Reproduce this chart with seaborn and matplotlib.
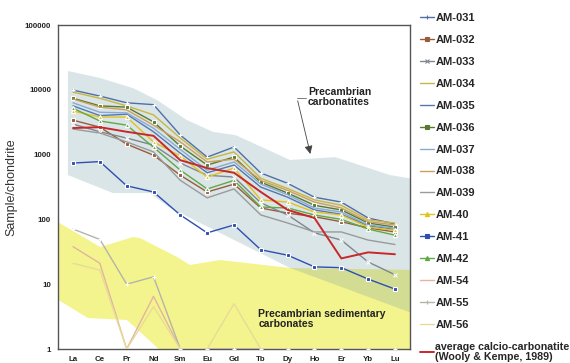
import numpy as np
import pandas as pd
import matplotlib
matplotlib.use("Agg")
import matplotlib.pyplot as plt
import seaborn as sns
from matplotlib.lines import Line2D
from matplotlib.ticker import LogLocator, NullFormatter, FixedLocator, FixedFormatter

# ---------------- data ----------------
ree = ["La", "Ce", "Pr", "Nd", "Sm", "Eu", "Gd", "Tb", "Dy", "Ho", "Er", "Yb", "Lu"]

am031 = [9900, 8000, 6300, 5900, 2000, 915, 1310, 520, 360, 220, 185, 105, 85]
am032 = [3400, 2650, 1450, 980, 480, 265, 350, 150, 125, 110, 92, 74, 64]
am033 = [2950, 2250, 1800, 1400, 740, 480, 450, 180, 117, 62, 48, 22, 14]
am034 = [9200, 7400, 5650, 4100, 1800, 850, 1100, 430, 300, 200, 165, 98, 88]
am035 = [5650, 4000, 4200, 2250, 1050, 525, 690, 315, 220, 140, 120, 80, 70]
am036 = [7400, 5650, 5400, 3200, 1350, 690, 915, 375, 255, 165, 140, 88, 76]
am037 = [6300, 4500, 4400, 2550, 1200, 575, 770, 350, 240, 150, 130, 82, 73]
am038 = [7200, 5400, 4900, 2850, 1570, 770, 850, 400, 280, 185, 150, 92, 82]
am039 = [2480, 2150, 1570, 1100, 400, 215, 295, 117, 88, 64, 64, 48, 41]
am40 = [4700, 3800, 3800, 1570, 950, 450, 620, 200, 185, 130, 117, 76, 68]
am41 = [740, 780, 330, 265, 117, 62, 82, 34, 28, 18.5, 18, 12, 8.4]
am42 = [5200, 3300, 2850, 1300, 575, 295, 400, 155, 150, 117, 100, 71, 57]
am54 = [38, 21, 1, 6.5, 1, 1, 1, 1, 1, 1, 1, 1, 1]
am55 = [71, 49, 10, 13, 1, 1, 1, 1, 1, 1, 1, 1, 1]
am56 = [21, 16.5, 1, 4.5, 1, 1, 5, 1, 1, 1, 1, 1, 1]
avg_calcio = [2570, 2650, 2250, 1950, 820, 620, 525, 265, 140, 105, 25, 31, 29]

sample_names = ["AM-031", "AM-032", "AM-033", "AM-034", "AM-035", "AM-036", "AM-037",
                "AM-038", "AM-039", "AM-40", "AM-41", "AM-42", "AM-54", "AM-55", "AM-56"]
sample_values = [am031, am032, am033, am034, am035, am036, am037,
                 am038, am039, am40, am41, am42, am54, am55, am56]
avg_label = "average calcio-carbonatite\n(Wooly & Kempe, 1989)"

# field envelopes (REE position, normalised value)
carb_x = [-0.19, 1.01, 2.24, 3.13, 4.25, 5.22, 6.07, 8.09, 9.77, 11.81, 12.7,
          12.7, 8.09, 3.62, 2.87, 1.49, -0.19]
carb_y = [19500, 15200, 10600, 6950, 3400, 2240, 1990, 825, 915, 484, 420,
          3.5, 17.8, 150, 255, 255, 484]
sed_x = [-0.9, 1.01, 2.24, 2.50, 3.88, 4.36, 5.48, 8.09, 12.7,
         12.7, 3.99, 2.01, 0.56, -0.9]
sed_y = [110, 37.5, 53.5, 51.5, 26.3, 19.8, 23.6, 17.8, 16.6,
         0.5, 0.5, 2.8, 3.0, 7.0]

# ---------------- style ----------------
colors = {"AM-031": "#4f6fa8", "AM-032": "#9a5a3c", "AM-033": "#7f8791",
          "AM-034": "#c9b640", "AM-035": "#5676b0", "AM-036": "#587a2c",
          "AM-037": "#86acd6", "AM-038": "#cf9e5c", "AM-039": "#9a9a9a",
          "AM-40": "#e2c21e", "AM-41": "#2f4fb0", "AM-42": "#62a844",
          "AM-54": "#e4b4a0", "AM-55": "#b4b4aa", "AM-56": "#e6dc98"}
markers = {"AM-031": "+", "AM-032": "s", "AM-033": "x", "AM-034": None,
           "AM-035": None, "AM-036": "s", "AM-037": None, "AM-038": None,
           "AM-039": None, "AM-40": "^", "AM-41": "s", "AM-42": "^",
           "AM-54": None, "AM-55": "+", "AM-56": None}
avg_color = "#c8282a"

sns.set_theme(style="white")
plt.rcParams["font.family"] = ["Liberation Sans", "DejaVu Sans"]

fig = plt.figure(figsize=(5.7, 3.63), dpi=100)
ax = fig.add_axes([58 / 570, 1 - 349 / 363, (410 - 58) / 570, (349 - 25) / 363])

ax.fill(sed_x, sed_y, color="#f4f48e", lw=0, zorder=0)
ax.fill(carb_x, carb_y, color="#6f98a3", alpha=0.25, lw=0, zorder=1)

xpos = np.arange(len(ree))
for name, vals in zip(sample_names, sample_values):
    df = pd.DataFrame({"pos": xpos, "value": vals})
    mk = markers[name]
    sns.lineplot(data=df, x="pos", y="value", ax=ax, color=colors[name],
                 lw=1.0, marker=mk if mk else None, markersize=3,
                 markeredgewidth=0.8, sort=False, zorder=3, legend=False)
dfa = pd.DataFrame({"pos": xpos, "value": avg_calcio})
sns.lineplot(data=dfa, x="pos", y="value", ax=ax, color=avg_color, lw=1.4,
             sort=False, zorder=4, legend=False)

ax.set_yscale("log")
ax.set_ylim(1, 100000)
ax.set_xlim(-0.56, 12.56)

# y ticks
ax.yaxis.set_major_locator(FixedLocator([1, 10, 100, 1000, 10000, 100000]))
ax.yaxis.set_major_formatter(FixedFormatter(["1", "10", "100", "1000", "10000", "100000"]))
ax.yaxis.set_minor_locator(LogLocator(base=10, subs=np.arange(2, 10), numticks=20))
ax.yaxis.set_minor_formatter(NullFormatter())
ax.tick_params(axis="y", which="major", direction="inout", length=4, width=0.8,
               labelsize=5.7, pad=3, colors="#444444", labelcolor="#222222")
ax.tick_params(axis="y", which="minor", direction="in", length=2, width=0.6,
               colors="#555555")
for t in ax.get_yticklabels():
    t.set_fontweight("bold")

# x ticks: labels at centres, tick marks between categories
ax.xaxis.set_major_locator(FixedLocator(xpos))
ax.xaxis.set_major_formatter(FixedFormatter(ree))
ax.xaxis.set_minor_locator(FixedLocator(np.arange(-0.5, 12.6, 1.0)))
ax.tick_params(axis="x", which="major", length=0, labelsize=5.7, pad=5,
               labelcolor="#222222")
ax.tick_params(axis="x", which="minor", direction="inout", length=3, width=0.7,
               colors="#555555")
for t in ax.get_xticklabels():
    t.set_fontweight("bold")

ax.set_xlabel("")
ax.set_ylabel("Sample/chondrite", fontsize=9, color="#333333", labelpad=5)

for s in ax.spines.values():
    s.set_visible(True)
    s.set_color("#555555")
    s.set_linewidth(1.0)

# annotations
ax.text(8.76, 7740, "Precambrian\ncarbonatites", fontsize=7.5, fontweight="bold",
        color="#222222", va="center", ha="left", linespacing=1.1, zorder=6)
ax.annotate("", xy=(8.87, 930), xytext=(8.35, 7450),
            arrowprops=dict(arrowstyle="-|>,head_length=0.4,head_width=0.2",
                            color="#444444", lw=0.6), zorder=6)
ax.plot([8.35, 8.68], [7450, 7450], color="#666666", lw=0.6, zorder=6)
ax.text(6.9, 2.9, "Precambrian sedimentary\ncarbonates", fontsize=7.5,
        fontweight="bold", color="#222222", va="center", ha="left",
        linespacing=1.1, zorder=6)

# legend
handles = []
for name in sample_names:
    mk = markers[name]
    handles.append(Line2D([], [], color=colors[name], lw=1.0,
                          marker=mk if mk else None, markersize=3,
                          markeredgewidth=0.8))
handles.append(Line2D([], [], color=avg_color, lw=1.4))
labels = sample_names + [avg_label]
leg = fig.legend(handles, labels, loc="upper left",
                 bbox_to_anchor=(418 / 570, 1 - 11 / 363),
                 frameon=False, prop={"weight": "bold", "size": 8}, handlelength=1.2,
                 handletextpad=0.15, labelspacing=1.07, borderpad=0.2, borderaxespad=0)
leg.get_texts()[-1].set_fontsize(7.7)
leg.get_texts()[-1].set_linespacing(1.0)

fig.savefig("out.png", dpi=100)
